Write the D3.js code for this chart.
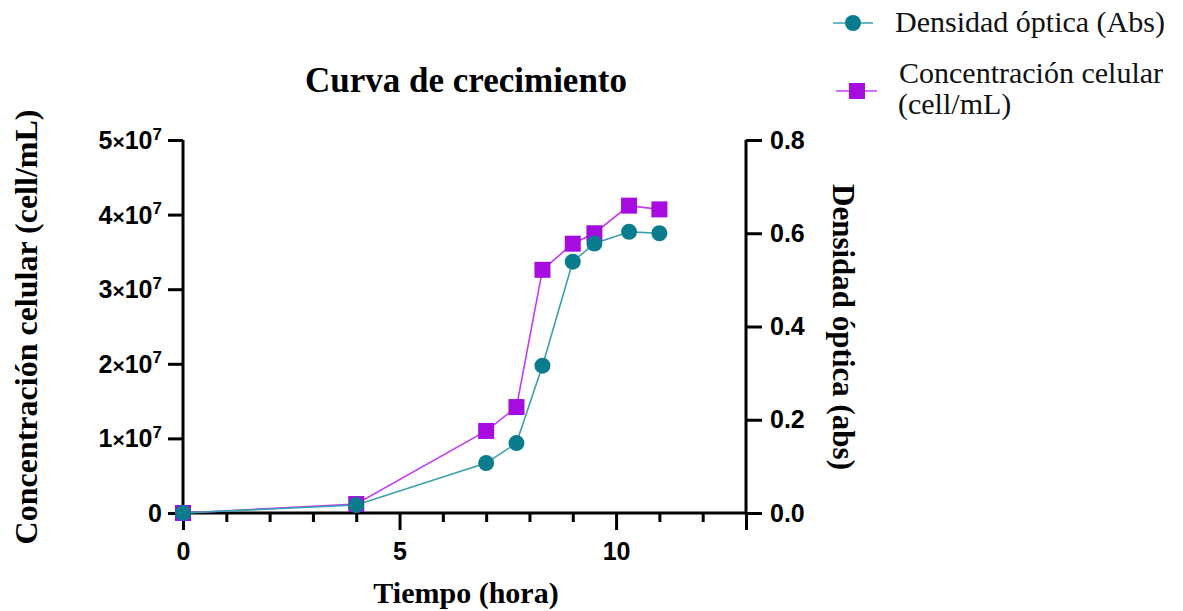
<!DOCTYPE html>
<html><head><meta charset="utf-8">
<script src="https://cdn.jsdelivr.net/npm/d3@7"></script>
<style>body{margin:0;background:#fff}</style>
</head><body>
<svg id="c" width="1183" height="611"></svg>
<script>
const time = [0, 4, 7, 7.7, 8.3, 9, 9.5, 10.3, 11];
const absorbance = [0, 0.017, 0.107, 0.150, 0.316, 0.539, 0.578, 0.603, 0.600];
const concentration = [0, 1.2e6, 1.10e7, 1.42e7, 3.26e7, 3.61e7, 3.75e7, 4.12e7, 4.07e7];
const leftTicks = [0, 1e7, 2e7, 3e7, 4e7, 5e7];
const rightTicks = [0, 0.2, 0.4, 0.6, 0.8];
const xMajor = [0, 5, 10];

const svg = d3.select("#c");
const L = 183, R = 746, T = 140, B = 513;
const x = d3.scaleLinear().domain([0, 13]).range([L, R]);
const yL = d3.scaleLinear().domain([0, 5e7]).range([B, T]);
const yR = d3.scaleLinear().domain([0, 0.8]).range([B, T]);

const teal = "#0b7c8e", tealLine = "#3a9fae";
const purple = "#a60ce0", purpleLine = "#c33cf2";
const serif = "'Liberation Serif','Times New Roman',serif";
const sans = "'Liberation Sans',Arial,sans-serif";

// axes
const gx = svg.append("g").attr("transform", `translate(0,${B})`);
gx.call(d3.axisBottom(x).tickValues(d3.range(0, 14)).tickSize(16).tickFormat(d => xMajor.includes(d) ? d : ""));
gx.selectAll(".tick line").attr("y2", d => (xMajor.includes(d) || d === 13) ? 17 : 9);
gx.selectAll("text").attr("font-family", sans).attr("font-weight", "bold").attr("font-size", 25).attr("y", 29).attr("fill", "#000");

const gl = svg.append("g").attr("transform", `translate(${L},0)`);
gl.call(d3.axisLeft(yL).tickValues(leftTicks).tickSize(15).tickFormat(""));
const gr = svg.append("g").attr("transform", `translate(${R},0)`);
gr.call(d3.axisRight(yR).tickValues(rightTicks).tickSize(16).tickFormat(d3.format(".1f")));
gr.selectAll("text").attr("font-family", sans).attr("font-weight", "bold").attr("font-size", 25).attr("x", 24).attr("fill", "#000");

[gx, gl, gr].forEach(g => {
  g.select(".domain").attr("stroke", "#000").attr("stroke-width", 3);
  g.selectAll(".tick line").attr("stroke", "#000").attr("stroke-width", 3);
});
gx.select(".domain").attr("d", `M${L},0H${R}`);
gl.select(".domain").attr("d", `M0,${B}V${T}`);
gr.select(".domain").attr("d", `M0,${B}V${T}`);

// left tick labels with superscript
const lt = svg.append("g");
leftTicks.forEach(v => {
  const t = lt.append("text").attr("x", 162).attr("y", yL(v)).attr("dy", "0.36em")
    .attr("text-anchor", "end").attr("font-family", sans).attr("font-weight", "bold")
    .attr("font-size", 25).attr("fill", "#000");
  if (v === 0) { t.text("0"); }
  else {
    const m = v / 1e7;
    t.append("tspan").text(m);
    t.append("tspan").text("×").attr("font-size", 21);
    t.append("tspan").text("10");
    t.append("tspan").text("7").attr("font-size", 17).attr("dy", "-0.55em");
  }
});

// lines
const lineAbs = d3.line().x((d, i) => x(time[i])).y(d => yR(d));
const lineConc = d3.line().x((d, i) => x(time[i])).y(d => yL(d));
svg.append("path").attr("d", lineConc(concentration)).attr("fill", "none").attr("stroke", purpleLine).attr("stroke-width", 1.6);
svg.append("path").attr("d", lineAbs(absorbance)).attr("fill", "none").attr("stroke", tealLine).attr("stroke-width", 1.6);

// markers
svg.append("g").selectAll("rect").data(concentration).join("rect")
  .attr("x", (d, i) => x(time[i]) - 8).attr("y", d => yL(d) - 8)
  .attr("width", 16).attr("height", 16).attr("fill", purple);
svg.append("g").selectAll("circle").data(absorbance).join("circle")
  .attr("cx", (d, i) => x(time[i])).attr("cy", d => yR(d)).attr("r", 8).attr("fill", teal);

// titles
svg.append("text").attr("x", 466).attr("y", 92).attr("text-anchor", "middle")
  .attr("font-family", serif).attr("font-weight", "bold").attr("font-size", 35).attr("fill", "#000")
  .text("Curva de crecimiento");
svg.append("text").attr("x", 466).attr("y", 603).attr("text-anchor", "middle")
  .attr("font-family", serif).attr("font-weight", "bold").attr("font-size", 30).attr("fill", "#000")
  .text("Tiempo (hora)");
svg.append("text").attr("transform", "translate(37,327) rotate(-90)").attr("text-anchor", "middle")
  .attr("font-family", serif).attr("font-weight", "bold").attr("font-size", 32).attr("fill", "#000")
  .text("Concentración celular (cell/mL)");
svg.append("text").attr("transform", "translate(833,327) rotate(90)").attr("text-anchor", "middle")
  .attr("font-family", serif).attr("font-weight", "bold").attr("font-size", 31).attr("fill", "#000")
  .text("Densidad óptica (abs)");

// legend
const lg = svg.append("g");
lg.append("line").attr("x1", 833).attr("x2", 873).attr("y1", 23).attr("y2", 23).attr("stroke", tealLine).attr("stroke-width", 1.6);
lg.append("circle").attr("cx", 853).attr("cy", 23).attr("r", 8).attr("fill", teal);
lg.append("text").attr("x", 895).attr("y", 32).attr("font-family", serif).attr("font-size", 30).attr("fill", "#111").text("Densidad óptica (Abs)");
lg.append("line").attr("x1", 836).attr("x2", 877).attr("y1", 91).attr("y2", 91).attr("stroke", purpleLine).attr("stroke-width", 1.6);
lg.append("rect").attr("x", 849).attr("y", 83).attr("width", 16).attr("height", 16).attr("fill", purple);
lg.append("text").attr("x", 899).attr("y", 83).attr("font-family", serif).attr("font-size", 30).attr("fill", "#111").text("Concentración celular");
lg.append("text").attr("x", 898).attr("y", 114).attr("font-family", serif).attr("font-size", 30).attr("fill", "#111").text("(cell/mL)");
</script>
</body></html>
